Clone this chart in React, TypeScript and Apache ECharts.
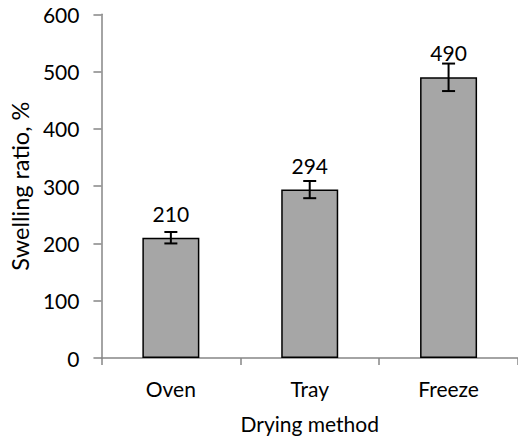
import React, { useEffect, useRef } from "react";
import * as echarts from "echarts";

const categories = ["Oven", "Tray", "Freeze"];
const values = [210, 294, 490];
const errors = [10, 15, 24];
const yTicks = [0, 100, 200, 300, 400, 500, 600];

const FONT = "Lato";

export default function App() {
  const ref = useRef<HTMLDivElement>(null);
  useEffect(() => {
    if (!ref.current) return;
    const chart = echarts.init(ref.current, undefined, { renderer: "svg" });
    const errData = values.map((v, i) => [i, v - errors[i], v + errors[i]]);
    chart.setOption({
      animation: false,
      backgroundColor: "#ffffff",
      textStyle: { fontFamily: FONT },
      grid: { left: 97, top: 14.3, width: 423, height: 344.4, containLabel: false },
      xAxis: {
        type: "category",
        data: categories,
        name: "Drying method",
        nameLocation: "middle",
        nameGap: 55,
        nameTextStyle: { fontFamily: FONT, fontSize: 21, color: "#000" },
        axisLine: { lineStyle: { color: "#868686", width: 1.5 } },
        axisTick: { show: true, length: 7, alignWithLabel: false, lineStyle: { color: "#868686", width: 1.5 } },
        axisLabel: { fontFamily: FONT, fontSize: 21, color: "#000", margin: 20 },
      },
      yAxis: {
        type: "value",
        min: yTicks[0],
        max: yTicks[yTicks.length - 1],
        interval: 100,
        name: "Swelling ratio, %",
        nameLocation: "middle",
        nameGap: 64,
        nameTextStyle: { fontFamily: FONT, fontSize: 23.5, color: "#000" },
        axisLine: { show: true, lineStyle: { color: "#868686", width: 1.5 } },
        axisTick: { show: true, length: 8, lineStyle: { color: "#868686", width: 1.5 } },
        axisLabel: { fontFamily: FONT, fontSize: 21, color: "#000", margin: 22 },
        splitLine: { show: false },
      },
      series: [
        {
          type: "bar",
          data: values,
          barWidth: 57,
          itemStyle: { color: "#a6a6a6", borderColor: "#000", borderWidth: 1.5 },
          label: {
            show: true,
            position: "top",
            distance: 14,
            fontFamily: FONT,
            fontSize: 21,
            color: "#000",
          },
          z: 2,
        },
        {
          type: "custom",
          data: errData,
          z: 3,
          renderItem: (params: any, api: any) => {
            const x = api.value(0);
            const lo = api.coord([x, api.value(1)]);
            const hi = api.coord([x, api.value(2)]);
            const cap = 6.5;
            const style = { stroke: "#000", lineWidth: 2 };
            return {
              type: "group",
              children: [
                { type: "line", shape: { x1: lo[0], y1: lo[1], x2: hi[0], y2: hi[1] }, style },
                { type: "line", shape: { x1: lo[0] - cap, y1: lo[1], x2: lo[0] + cap, y2: lo[1] }, style },
                { type: "line", shape: { x1: hi[0] - cap, y1: hi[1], x2: hi[0] + cap, y2: hi[1] }, style },
              ],
            };
          },
        },
      ],
    });
    return () => chart.dispose();
  }, []);
  return (
    <div
      ref={ref}
      style={{ position: "fixed", left: 0, top: 0, width: 518, height: 439, background: "#fff" }}
    />
  );
}
